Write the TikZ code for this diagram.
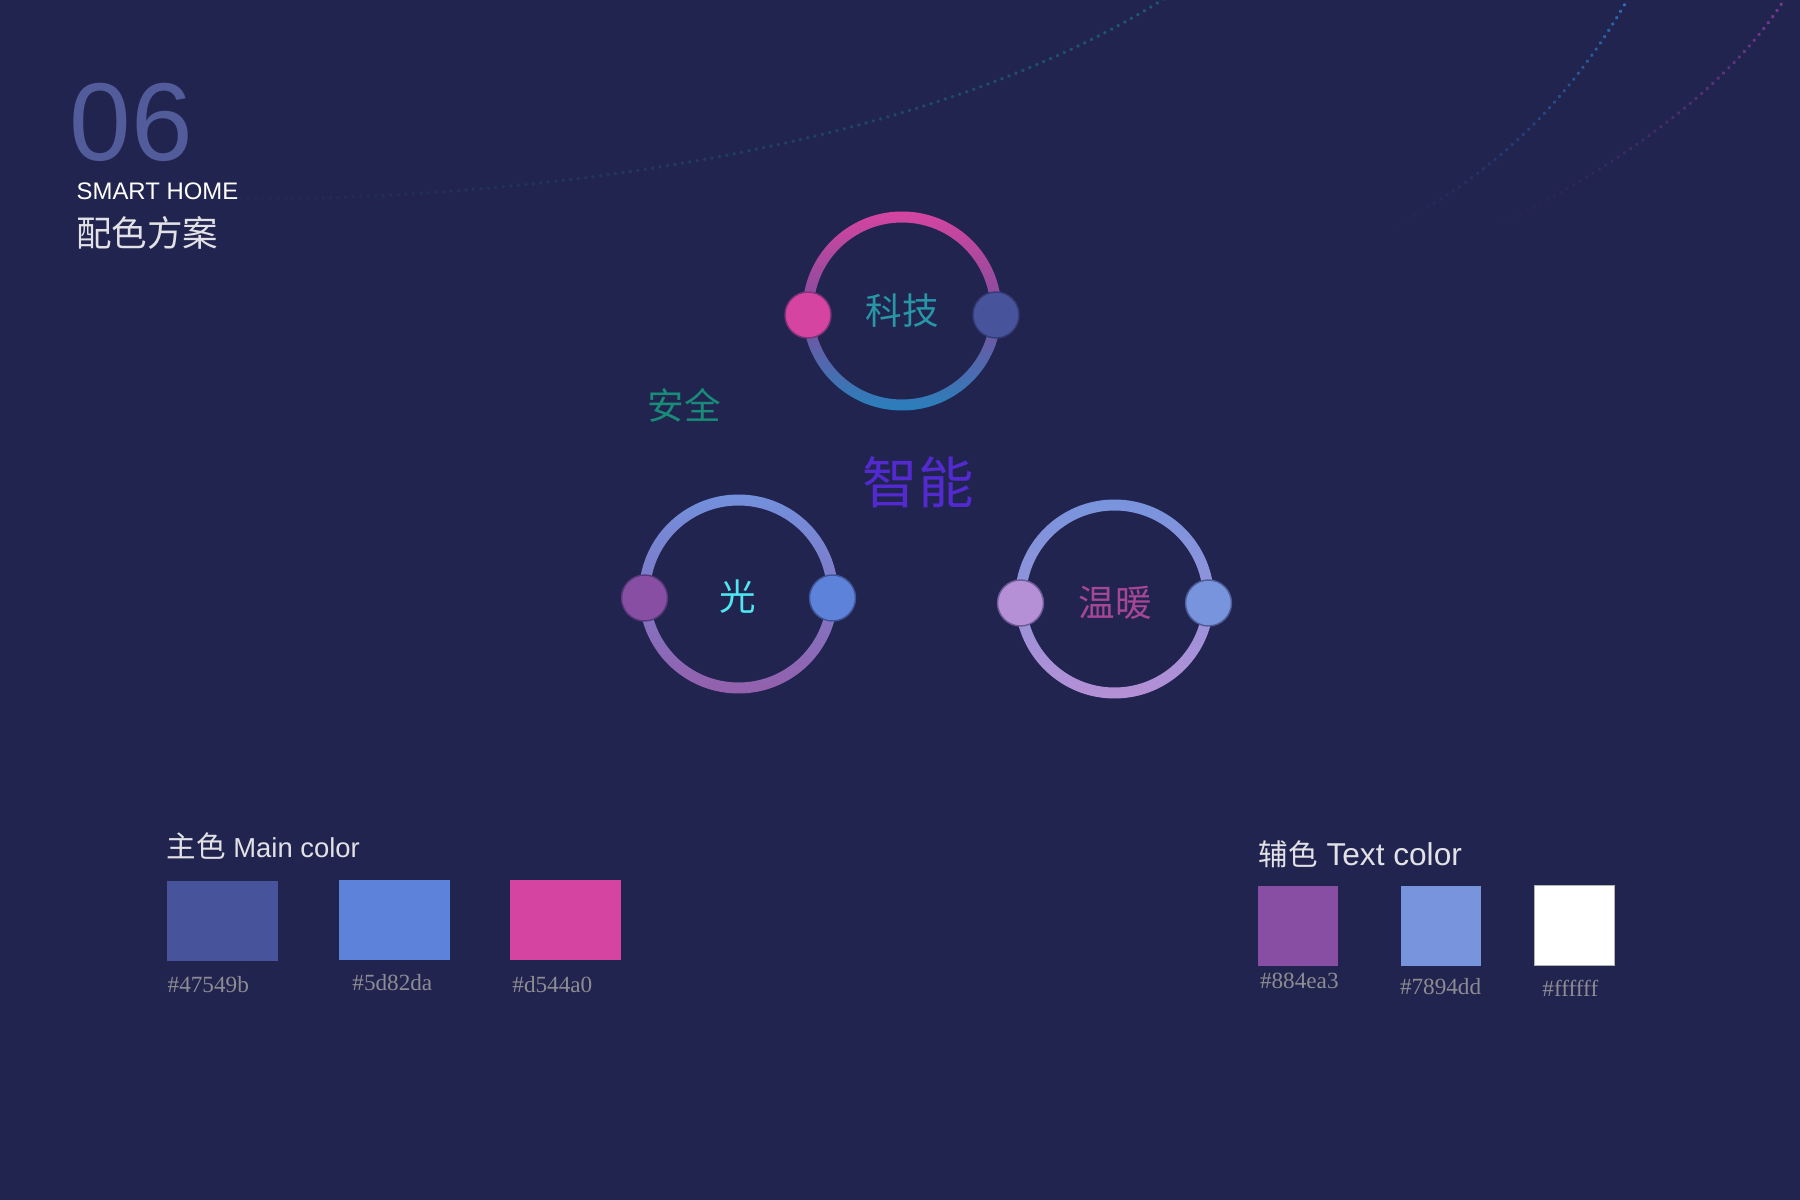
\documentclass[tikz,border=0pt]{standalone}
\usepackage{fontspec}
\setmainfont{Liberation Sans}
\newfontfamily\cjk{Noto Sans CJK SC}
\newfontfamily\hexfont{Liberation Serif}
\usetikzlibrary{decorations.markings}

\definecolor{bgnavy}{RGB}{34,36,80}
\definecolor{numblue}{RGB}{82,92,155}
\definecolor{titlegray}{RGB}{225,225,230}
\definecolor{hexgray}{RGB}{140,140,146}
\definecolor{mainA}{HTML}{47549B}
\definecolor{mainB}{HTML}{5D82DA}
\definecolor{mainC}{HTML}{D544A0}
\definecolor{textA}{HTML}{884EA3}
\definecolor{textB}{HTML}{7894DD}
\definecolor{textC}{HTML}{FFFFFF}
\definecolor{lilac}{RGB}{182,144,214}
\definecolor{deepsky}{RGB}{40,128,188}
\definecolor{techteal}{RGB}{40,150,165}
\definecolor{safegreen}{RGB}{24,140,120}
\definecolor{smartviolet}{RGB}{82,42,208}
\definecolor{lightcyan}{RGB}{80,230,240}
\definecolor{warmpink}{RGB}{165,70,150}
\definecolor{tealdot}{RGB}{30,92,112}
\definecolor{bluedot}{RGB}{46,114,190}
\definecolor{purpledot}{RGB}{128,58,148}

\begin{document}
\begin{tikzpicture}[
    swatch/.style={minimum width=1.11cm, minimum height=0.8cm, inner sep=0pt},
    textswatch/.style={minimum width=0.8cm, minimum height=0.8cm, inner sep=0pt},
    hexlabel/.style={anchor=base west, inner sep=0pt, text=hexgray, font=\hexfont\fontsize{6.6}{8}\selectfont},
    ringtext/.style={inner sep=0pt, font=\cjk\fontsize{10.4}{12}\selectfont},
    dotline/.style={decorate, decoration={markings, mark=between positions 0 and 1 step 0.075cm with {\pgfmathsetmacro\fadeval{(\pgfkeysvalueof{/pgf/decoration/mark info/distance from start}/\pgfdecoratedpathlength)^1.5}\fill[#1, opacity=\fadeval] (0,0) circle (0.019);}}}
]
    \def\ring#1#2#3#4#5#6{
    \begin{scope}[shift={#1}]
    \shade[top color=#2, bottom color=#4, middle color=#3, even odd rule] (0,0) circle (0.995) (0,0) circle (0.885);
    \filldraw[fill=#5, draw=bgnavy!50!#5, line width=0.4pt] (-0.94,-0.04) circle (0.23);
    \filldraw[fill=#6, draw=bgnavy!50!#6, line width=0.4pt] (0.94,-0.04) circle (0.23);
    \end{scope}
    }

    \useasboundingbox (0,0) rectangle (18,12);
    \fill[bgnavy] (0,0) rectangle (18,12);

    \path[dotline=tealdot] (0,10.12) .. controls (4,9.75) and (9,10.3) .. (11.7,12.05);
    \path[dotline=bluedot] (13.75,9.65) .. controls (14.7,10.1) and (15.6,10.8) .. (16.3,12.05);
    \path[dotline=purpledot] (14.8,9.68) .. controls (16.0,10.2) and (17.3,11.1) .. (17.87,12.05);

    \node[anchor=base west, inner sep=0pt, text=numblue, font=\fontsize{31.5}{32}\selectfont] (num) at (0.69,10.39) {06};
    \node[anchor=base west, inner sep=0pt, text=white, font=\fontsize{6.8}{8}\selectfont] (brand) at (0.76,10.0) {SMART HOME};
    \node[anchor=base west, inner sep=0pt, text=titlegray, font=\cjk\fontsize{10.1}{12}\selectfont] (scheme) at (0.755,9.53) {配色方案};

    \ring{(9.02,8.89)}{mainC}{mainC!40!mainA}{deepsky}{mainC}{mainA};
    \ring{(7.385,6.06)}{textB!80!mainB}{textB!60!textA}{textA!90!white}{textA}{mainB};
    \ring{(11.145,6.01)}{textB}{textB!55!lilac}{lilac}{lilac}{textB};

    \node[ringtext, text=techteal] (keji) at (9.02,8.89) {科技};
    \node[ringtext, text=safegreen] (anquan) at (6.845,7.95) {安全};
    \node[inner sep=0pt, font=\cjk\fontsize{15.8}{18}\selectfont, text=smartviolet] (zhineng) at (9.18,7.18) {智能};
    \node[ringtext, text=lightcyan] (guang) at (7.38,6.03) {光};
    \node[ringtext, text=warmpink] (wennuan) at (11.15,5.97) {温暖};

    \node[anchor=base west, inner sep=0pt, text=titlegray, font=\fontsize{7.8}{10}\selectfont] (maintitle) at (1.66,3.43) {{\cjk\fontsize{8.4}{10}\selectfont 主色} Main color};
    \node[swatch, fill=mainA] (swmainA) at (2.22,2.79) {};
    \node[swatch, fill=mainB] (swmainB) at (3.943,2.80) {};
    \node[swatch, fill=mainC] (swmainC) at (5.65,2.80) {};
    \node[hexlabel] (hexmainA) at (1.67,2.08) {\#47549b};
    \node[hexlabel] (hexmainB) at (3.517,2.10) {\#5d82da};
    \node[hexlabel] (hexmainC) at (5.117,2.073) {\#d544a0};

    \node[anchor=base west, inner sep=0pt, text=titlegray, font=\fontsize{9.0}{10}\selectfont] (texttitle) at (12.58,3.343) {{\cjk\fontsize{8.4}{10}\selectfont 辅色} Text color};
    \node[textswatch, fill=textA] (swtextA) at (12.983,2.743) {};
    \node[textswatch, fill=textB] (swtextB) at (14.41,2.743) {};
    \node[textswatch, fill=textC, draw=gray!60, line width=0.4pt] (swtextC) at (15.742,2.743) {};
    \node[hexlabel] (hextextA) at (12.593,2.117) {\#884ea3};
    \node[hexlabel] (hextextB) at (13.993,2.05) {\#7894dd};
    \node[hexlabel] (hextextC) at (15.417,2.033) {\#ffffff};
\end{tikzpicture}
\end{document}
